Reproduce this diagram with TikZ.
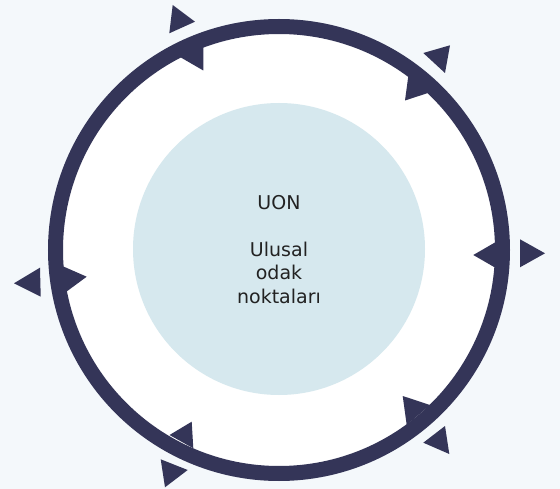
\documentclass[tikz,border=0pt]{standalone}
\usepackage{fontspec}
\setmainfont{DejaVu Sans}
\definecolor{navy}{HTML}{343558}
\definecolor{pagebg}{HTML}{F4F8FB}
\definecolor{corefill}{HTML}{D6E8EE}
\definecolor{txt}{HTML}{222222}
\begin{document}
\begin{tikzpicture}[x=1pt,y=-1pt,
  tri/.style={fill=navy},
  ringstyle/.style={circle, draw=navy, line width=15pt, fill=white, minimum size=447pt, inner sep=0pt},
  corestyle/.style={circle, fill=corefill, minimum size=292pt, inner sep=0pt},
  labelstyle/.style={align=center, text=txt, font=\fontsize{19}{23.5}\selectfont, inner sep=0pt}]
\fill[pagebg] (0,0) rectangle (560,489);
\useasboundingbox (0,0) rectangle (560,489);
\node[ringstyle] (ring) at (279,250) {};
\node[corestyle] (core) at (279,249) {};
\node[labelstyle] (label) at (279,249.5) {UON\\[23.5pt]Ulusal\\odak\\noktaları};
% arrowheads on the ring
\fill[tri] (203.3,43) -- (203.3,70.5) -- (179.5,56.7) -- cycle;
\fill[tri] (409,71) -- (405,100.5) -- (431,92) -- cycle;
\fill[tri] (473.3,255) -- (498.4,240.5) -- (498.4,269.5) -- cycle;
\fill[tri] (86.7,276.7) -- (60.2,265.1) -- (63.4,293.9) -- cycle;
\fill[tri] (169.5,435) -- (191.7,421.7) -- (193.3,448.3) -- cycle;
\fill[tri] (402.7,396) -- (430,405) -- (406.7,425) -- cycle;
% detached triangles outside
\fill[tri] (172.7,5) -- (195,21.7) -- (169.3,33.3) -- cycle;
\fill[tri] (423.3,53) -- (450,45.3) -- (445,73) -- cycle;
\fill[tri] (520,239.3) -- (545,253.3) -- (520,267.3) -- cycle;
\fill[tri] (40,267.7) -- (14,283.3) -- (40.7,296.7) -- cycle;
\fill[tri] (160.7,459.3) -- (187.7,470) -- (165,487.3) -- cycle;
\fill[tri] (423.3,442.7) -- (445,426) -- (449.3,454) -- cycle;
\end{tikzpicture}
\end{document}
